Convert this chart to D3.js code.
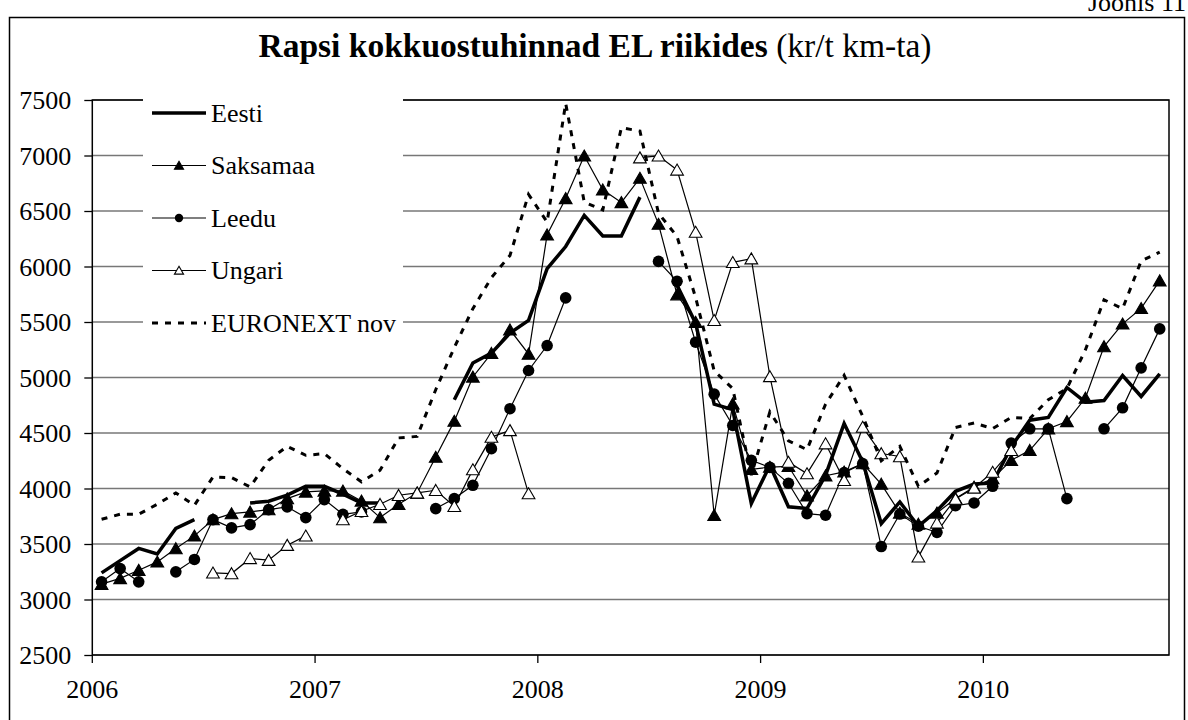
<!doctype html>
<html>
<head>
<meta charset="utf-8">
<style>
  body { margin: 0; background: #fff; }
  svg text { font-family: "Liberation Serif", "Times New Roman", serif; fill: #000; }
</style>
<script src="https://cdn.jsdelivr.net/npm/d3@7"></script>
</head>
<body>
<svg width="1188" height="720"></svg>
<script>
// x categories: months Jan 2006 .. Oct 2010
var years = ["2006", "2007", "2008", "2009", "2010"];
var months = [];
years.forEach(function(y) {
  for (var m = 1; m <= 12; m++) months.push(y + "-" + (m < 10 ? "0" + m : m));
});
months = months.slice(0, 58);

var yTicks = [2500, 3000, 3500, 4000, 4500, 5000, 5500, 6000, 6500, 7000, 7500];

var eesti = [3240, 3350, 3460, 3410, 3640, 3720, null, null, 3870, 3885, 3940, 4020,
             4020, 3950, 3870, 3870, null, null, null, 4800, 5130, 5220, 5400, 5515,
             5980, 6180, 6460, 6275, 6275, 6625, null, 5830, 5490, 4760, 4710, 3865,
             4210, 3835, 3820, 4120, 4585, 4240, 3684, 3879, 3660, 3800, 3975, 4040,
             4050, 4375, 4615, 4640, 4910, 4778, 4793, 5018, 4829, 5033];

var saksamaa = [3138, 3190, 3264, 3339, 3459, 3573, 3720, 3774, 3789, 3810, 3909, 3969,
                3978, 3978, 3888, 3738, 3858, 3960, 4283, 4607, 5005, 5218, 5430, 5212,
                6286, 6613, 6997, 6691, 6577, 6796, 6382, 5746, 5498, 3759, 4763, 4173,
                4193, 4200, 3935, 4115, 4150, 4225, 4040, 3780, 3680, 3780, 3910, 4013,
                4089, 4254, 4344, 4538, 4604, 4815, 5279, 5483, 5623, 5872];

var leedu = [3159, 3279, 3159, null, 3249, 3361, 3720, 3645, 3675, 3810, 3834, 3738,
             3900, 3768, 3789, null, null, null, 3819, 3909, 4029, 4359, 4719, 5063,
             5288, 5717, null, null, null, null, 6046, 5866, 5318, 4850, 4568, 4254,
             4190, 4047, 3774, 3759, 4143, 4224, 3477, 3770, 3660, 3605, 3845, 3870,
             4020, 4409, 4538, 4538, 3909, null, 4538, 4727, 5087, 5438];

var ungari = [null, null, null, null, null, null, 3240, 3234, 3370, 3354, 3489, 3573,
              null, 3720, 3795, 3858, 3939, 3960, 3984, 3840, 4170, 4463, 4523, 3954,
              null, null, null, null, null, 6980, 6997, 6870, 6310, 5515, 6037, 6070,
              5009, 4238, 4134, 4404, 4074, 4553, 4315, 4288, 3384, 3690, 3905, 4005,
              4148, 4344, null, null, null, null, null, null, null, null];

var euronext = [3723, 3768, 3768, 3858, 3960, 3849, 4104, 4098, 4014, 4254, 4380, 4299,
                4314, 4179, 4060, 4164, 4456, 4469, 4890, 5270, 5620, 5900, 6100, 6650,
                6400, 7470, 6580, 6510, 7250, 7220, 6480, 6270, 5720, 5060, 4900, 4120,
                4690, 4430, 4350, 4760, 5020, 4650, 4250, 4380, 4020, 4140, 4550, 4590,
                4540, 4640, 4630, 4800, 4900, 5250, 5700, 5620, 6050, 6130];

var series = [
  { name: "Eesti", values: eesti, width: 3.5, dash: null, marker: null },
  { name: "Saksamaa", values: saksamaa, width: 1.2, dash: null, marker: "tri" },
  { name: "Leedu", values: leedu, width: 1.2, dash: null, marker: "circle" },
  { name: "Ungari", values: ungari, width: 1.2, dash: null, marker: "opentri" },
  { name: "EURONEXT nov", values: euronext, width: 3, dash: "6,7", marker: null }
];

var svg = d3.select("svg");
var plotL = 92.3, plotR = 1169, plotT = 100, plotB = 655;

var x = d3.scaleBand().domain(months).range([plotL, plotR]);
var y = d3.scaleLinear().domain([2500, 7500]).range([plotB, plotT]);

// outer frame and header
svg.append("rect").attr("x", 9.5).attr("y", 17.5).attr("width", 1175).attr("height", 720)
   .attr("fill", "none").attr("stroke", "#000").attr("stroke-width", 1.5);

svg.append("text").attr("x", 1088).attr("y", 11).attr("font-size", "26px").text("Joonis 11");

var title = svg.append("text").attr("x", 595).attr("y", 57).attr("text-anchor", "middle")
   .attr("font-size", "33.5px");
title.append("tspan").attr("font-weight", "bold").text("Rapsi kokkuostuhinnad EL riikides ");
title.append("tspan").text("(kr/t km-ta)");

// grid
svg.append("g").selectAll("line").data(yTicks).enter().append("line")
   .attr("x1", plotL).attr("x2", plotR)
   .attr("y1", function(d) { return y(d); }).attr("y2", function(d) { return y(d); })
   .attr("stroke", "#777").attr("stroke-width", 1.5);

// y axis
var yAxis = svg.append("g").attr("transform", "translate(" + plotL + ",0)")
   .call(d3.axisLeft(y).tickValues(yTicks).tickSize(8).tickPadding(13).tickFormat(d3.format("d")));
yAxis.select(".domain").remove();
yAxis.selectAll("line").attr("stroke", "#000").attr("stroke-width", 1.3);
yAxis.selectAll("text").attr("font-size", "26px").attr("font-family", "Liberation Serif").attr("dy", "0.34em");

// x axis, one tick per year
var yearStarts = months.filter(function(m) { return m.slice(5) === "01"; });
var xAxis = svg.append("g").attr("transform", "translate(0," + plotB + ")")
   .call(d3.axisBottom(x).tickValues(yearStarts).tickSize(8).tickPadding(17)
         .tickFormat(function(d) { return d.slice(0, 4); }));
xAxis.select(".domain").remove();
xAxis.selectAll(".tick").attr("transform", function(d) { return "translate(" + x(d) + ",0)"; });
xAxis.selectAll("line").attr("stroke", "#000").attr("stroke-width", 1.3);
xAxis.selectAll("text").attr("font-size", "26px").attr("font-family", "Liberation Serif");

// plot frame
svg.append("rect").attr("x", plotL).attr("y", plotT).attr("width", plotR - plotL).attr("height", plotB - plotT)
   .attr("fill", "none").attr("stroke", "#000").attr("stroke-width", 1.5);

// series
var cx = function(i) { return x(months[i]) + x.bandwidth() / 2; };
var line = d3.line()
   .defined(function(d) { return d != null; })
   .x(function(d, i) { return cx(i); })
   .y(function(d) { return y(d); });

var triBig = d3.symbol().type(d3.symbolTriangle).size(70);
var triSmall = d3.symbol().type(d3.symbolTriangle).size(36);

function drawMarkers(g, s, pts, big) {
  if (s.marker === "circle") {
    g.selectAll("circle").data(pts).enter().append("circle")
     .attr("cx", function(d) { return d.x; }).attr("cy", function(d) { return d.y; })
     .attr("r", big ? 5.8 : 4.2).attr("fill", "#000");
  } else if (s.marker) {
    g.selectAll("path.mk").data(pts).enter().append("path").attr("class", "mk")
     .attr("d", big ? triBig : triSmall)
     .attr("transform", function(d) { return "translate(" + d.x + "," + (d.y + (big ? 1.5 : 1)) + ")"; })
     .attr("fill", s.marker === "opentri" ? "#fff" : "#000")
     .attr("stroke", "#000").attr("stroke-width", 1.1);
  }
}

series.forEach(function(s) {
  var g = svg.append("g");
  g.append("path").datum(s.values).attr("d", line)
   .attr("fill", "none").attr("stroke", "#000").attr("stroke-width", s.width)
   .attr("stroke-dasharray", s.dash).attr("stroke-linejoin", "miter");
  var pts = [];
  s.values.forEach(function(v, i) { if (v != null) pts.push({ x: cx(i), y: y(v) }); });
  drawMarkers(g, s, pts, true);
});

// legend
var legend = svg.append("g");
legend.append("rect").attr("x", 143).attr("y", 92).attr("width", 260).attr("height", 242).attr("fill", "#fff");
series.forEach(function(s, k) {
  var ly = 113 + k * 52.5;
  var g = legend.append("g");
  g.append("line").attr("x1", 152).attr("x2", 206).attr("y1", ly).attr("y2", ly)
   .attr("stroke", "#000").attr("stroke-width", s.width).attr("stroke-dasharray", s.dash);
  drawMarkers(g, s, [{ x: 179, y: ly }], false);
  g.append("text").attr("x", 211).attr("y", ly).attr("dy", "0.34em").attr("font-size", "26px").text(s.name);
});
</script>
</body>
</html>
